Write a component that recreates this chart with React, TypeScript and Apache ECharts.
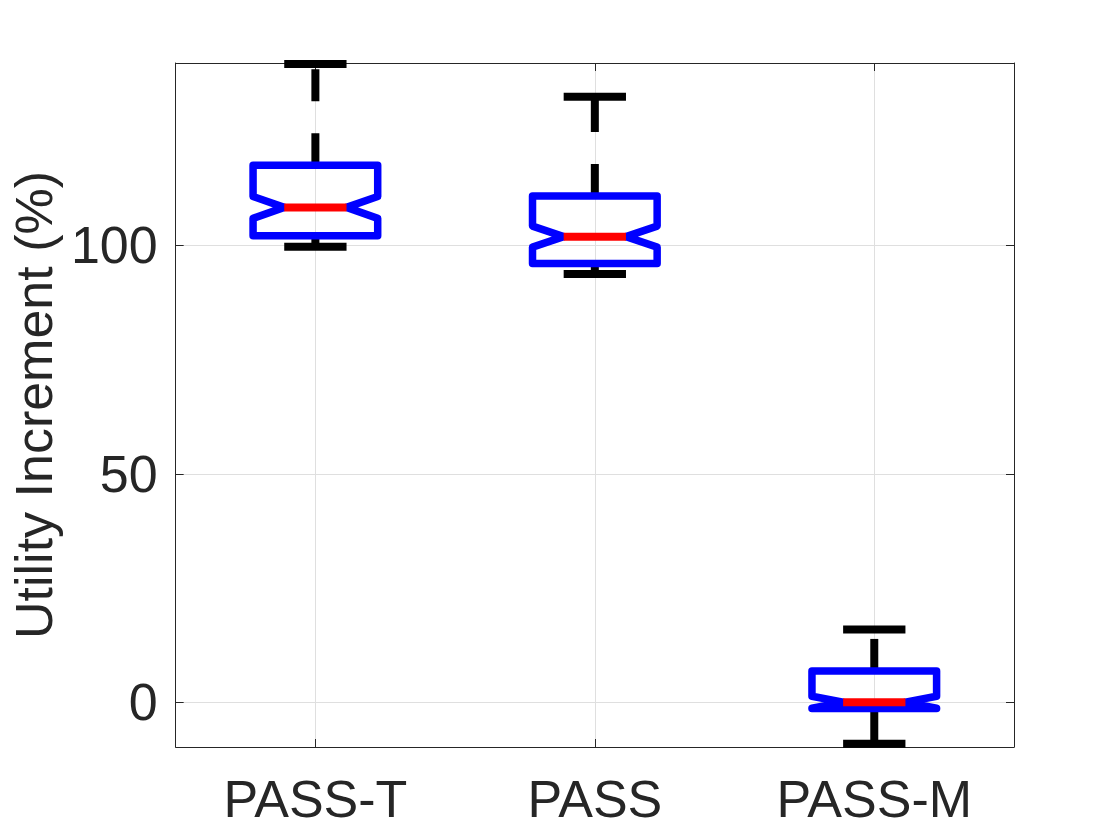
import React, { useEffect, useRef } from "react";
import * as echarts from "echarts";

// Groups along the horizontal axis
const categories = ["PASS-T", "PASS", "PASS-M"];

// Five-number summaries per group (percent)
const lowerWhisker = [99.7, 93.7, -9.1];
const q1 = [102.1, 96.0, -1.4];
const median = [108.3, 101.9, 0.0];
const q3 = [117.5, 110.8, 6.85];
const upperWhisker = [139.7, 132.5, 15.9];
// Half-height of the median notch (percent)
const notch = [2.4, 2.3, 1.3];

// Axis ticks and limits
const xTicks = [0, 1, 2];
const yTicks = [0, 50, 100];
const yMin = -9.8;
const yMax = 139.9;

const FONT = "'Liberation Sans', Arial, Helvetica, sans-serif";
const AXIS_COLOR = "#262626";
const GRID_COLOR = "#dfdfdf";

export default function App() {
  const ref = useRef<HTMLDivElement>(null);

  useEffect(() => {
    if (!ref.current) return;
    const chart = echarts.init(ref.current, undefined, { renderer: "svg" });

    const boxData = categories.map((_, i) => [
      i,
      lowerWhisker[i],
      q1[i],
      median[i],
      q3[i],
      upperWhisker[i],
      notch[i],
    ]);

    const renderItem = (params: any, api: any) => {
      const x = api.value(0);
      const lo = api.value(1);
      const a = api.value(2);
      const m = api.value(3);
      const b = api.value(4);
      const hi = api.value(5);
      const n = api.value(6);
      const unit = api.size([1, 0])[0];
      const hb = unit * 0.223;
      const hn = hb / 2;
      const hc = hb / 2;
      const p = (dx: number, v: number) => {
        const c = api.coord([x, v]);
        return [c[0] + dx, c[1]];
      };
      const seg = (p1: number[], p2: number[]) => ({
        x1: p1[0],
        y1: p1[1],
        x2: p2[0],
        y2: p2[1],
      });
      const whiskerStyle = {
        stroke: "#000000",
        lineWidth: 8,
        lineDash: [32, 32],
        lineCap: "butt",
        fill: null,
      };
      const capStyle = { stroke: "#000000", lineWidth: 8, lineCap: "butt", fill: null };
      const nu = m + n;
      const nl = m - n;
      const boxPts = [
        p(-hb, b),
        p(hb, b),
        p(hb, nu),
        p(hn, m),
        p(hb, nl),
        p(hb, a),
        p(-hb, a),
        p(-hb, nl),
        p(-hn, m),
        p(-hb, nu),
      ];
      return {
        type: "group",
        children: [
          { type: "line", shape: seg(p(0, b), p(0, hi)), style: whiskerStyle },
          { type: "line", shape: seg(p(0, a), p(0, lo)), style: whiskerStyle },
          { type: "line", shape: seg(p(-hc, hi), p(hc, hi)), style: capStyle },
          { type: "line", shape: seg(p(-hc, lo), p(hc, lo)), style: capStyle },
          {
            type: "polygon",
            shape: { points: boxPts },
            style: {
              stroke: "#0000ff",
              lineWidth: 7.5,
              lineJoin: "round",
              fill: null,
            },
          },
          {
            type: "line",
            shape: seg(p(-hn, m), p(hn, m)),
            style: { stroke: "#ff0000", lineWidth: 8, lineCap: "butt" },
          },
        ],
      };
    };

    const baseX = {
      type: "value",
      min: -0.5,
      max: 2.5,
      axisLine: { show: true, onZero: false, lineStyle: { color: AXIS_COLOR, width: 1 } },
      axisTick: {
        show: true,
        inside: true,
        length: 8,
        customValues: xTicks,
        lineStyle: { color: AXIS_COLOR, width: 1 },
      },
    };
    const baseY = {
      type: "value",
      min: yMin,
      max: yMax,
      axisLine: { show: true, onZero: false, lineStyle: { color: AXIS_COLOR, width: 1 } },
      axisTick: {
        show: true,
        inside: true,
        length: 8,
        customValues: yTicks,
        lineStyle: { color: AXIS_COLOR, width: 1 },
      },
    };

    chart.setOption({
      animation: false,
      backgroundColor: "#ffffff",
      grid: { left: 174, top: 63, width: 840, height: 684, containLabel: false },
      xAxis: [
        {
          ...baseX,
          position: "bottom",
          axisLabel: {
            show: true,
            customValues: xTicks,
            formatter: (v: number) => categories[Math.round(v)] ?? "",
            fontFamily: FONT,
            fontSize: 52,
            color: AXIS_COLOR,
            margin: 26,
          },
          splitLine: { show: true, lineStyle: { color: GRID_COLOR, width: 1 } },
        },
        {
          ...baseX,
          position: "top",
          axisLabel: { show: false },
          splitLine: { show: false },
        },
      ],
      yAxis: [
        {
          ...baseY,
          position: "left",
          name: "Utility Increment (%)",
          nameLocation: "middle",
          nameGap: 112,
          nameTextStyle: { fontFamily: FONT, fontSize: 52, color: AXIS_COLOR },
          axisLabel: {
            show: true,
            customValues: yTicks,
            fontFamily: FONT,
            fontSize: 52,
            color: AXIS_COLOR,
            margin: 18,
          },
          splitLine: { show: true, lineStyle: { color: GRID_COLOR, width: 1 } },
        },
        {
          ...baseY,
          position: "right",
          axisLabel: { show: false },
          splitLine: { show: false },
        },
      ],
      series: [
        {
          type: "custom",
          xAxisIndex: 0,
          yAxisIndex: 0,
          renderItem,
          data: boxData,
          encode: { x: 0, y: [1, 2, 3, 4, 5] },
          clip: false,
          z: 5,
        },
      ],
    });

    return () => chart.dispose();
  }, []);

  return (
    <div
      ref={ref}
      style={{ position: "absolute", left: 0, top: 0, width: 1120, height: 840 }}
    />
  );
}
